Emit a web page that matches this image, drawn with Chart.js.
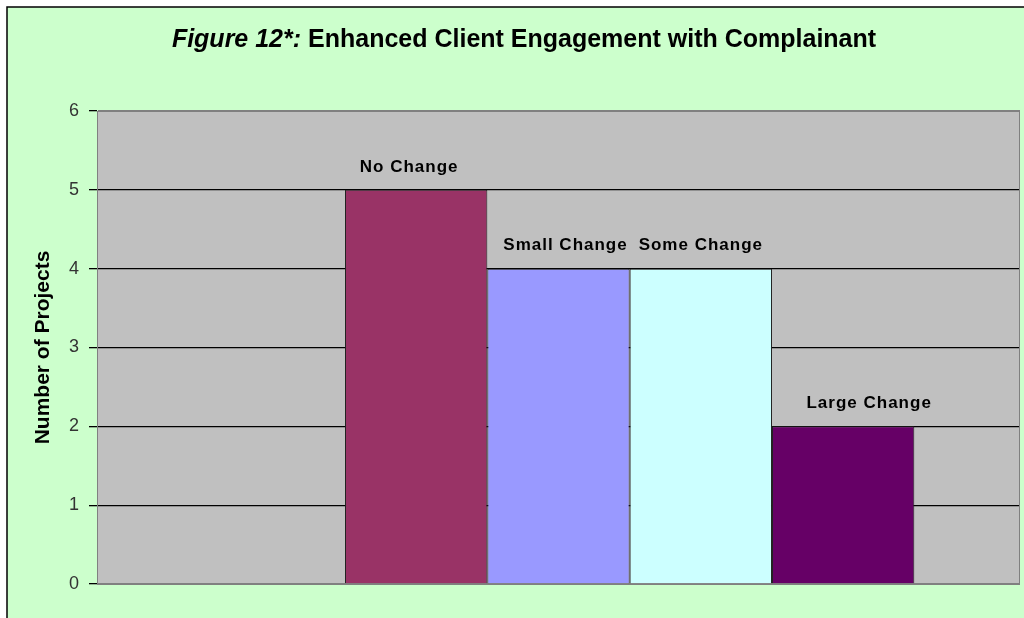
<!DOCTYPE html>
<html>
<head>
<meta charset="utf-8">
<script src="https://cdn.jsdelivr.net/npm/chart.js@4"></script>
<style>
  body { margin: 0; background: #ffffff; }
  #wrap { width: 1024px; height: 618px; }
</style>
</head>
<body>
<div id="wrap"><canvas id="fig12" width="1024" height="618"></canvas></div>
<script>
// first slot is an empty series (Excel left a blank bar there)
var seriesNames = ['', 'No Change', 'Small Change', 'Some Change', 'Large Change'];
var projectCounts = [null, 5, 4, 4, 2];
var seriesColors = ['#c0c0c0', '#993366', '#9999ff', '#ccffff', '#660066'];
var yTicks = [0, 1, 2, 3, 4, 5, 6];

// the labels in the original are hand placed text boxes, not quite centred
var labelShift = [0, -7, 7, 0, 26];

var datasets = [];
for (var i = 0; i < seriesNames.length; i++) {
    datasets.push({
        label: seriesNames[i],
        data: [projectCounts[i]],
        backgroundColor: seriesColors[i],
        borderColor: '#222222',
        borderWidth: 1,
        barPercentage: 1.0,
        categoryPercentage: 0.771
    });
}

// green panel, frame lines and the mixed-style title
var backdrop = {
    id: 'backdrop',
    beforeDraw: function(chart) {
        var ctx = chart.ctx;
        ctx.save();
        ctx.fillStyle = '#ffffff';
        ctx.fillRect(0, 0, chart.width, chart.height);
        ctx.fillStyle = '#ccffcc';
        ctx.fillRect(7, 7, chart.width - 7, chart.height - 7);
        ctx.strokeStyle = '#000000';
        ctx.lineWidth = 1.5;
        ctx.beginPath();
        ctx.moveTo(7, chart.height);
        ctx.lineTo(7, 7);
        ctx.lineTo(chart.width, 7);
        ctx.stroke();
        var a = chart.chartArea;
        ctx.fillStyle = '#c0c0c0';
        ctx.fillRect(a.left, a.top, a.right - a.left, a.bottom - a.top);

        // title
        var part1 = 'Figure 12*:';
        var part2 = ' Enhanced Client Engagement with Complainant';
        ctx.fillStyle = '#000000';
        ctx.textBaseline = 'middle';
        ctx.textAlign = 'left';
        ctx.font = 'italic bold 25px "Liberation Sans", Arial, sans-serif';
        var w1 = ctx.measureText(part1).width;
        ctx.font = 'bold 25px "Liberation Sans", Arial, sans-serif';
        var w2 = ctx.measureText(part2).width;
        var x0 = 524 - (w1 + w2) / 2;
        ctx.font = 'italic bold 25px "Liberation Sans", Arial, sans-serif';
        ctx.fillText(part1, x0, 40);
        ctx.font = 'bold 25px "Liberation Sans", Arial, sans-serif';
        ctx.fillText(part2, x0 + w1, 40);
        ctx.restore();
    },
    afterDraw: function(chart) {
        var ctx = chart.ctx;
        var a = chart.chartArea;
        ctx.save();
        ctx.strokeStyle = '#808080';
        ctx.lineWidth = 1;
        ctx.strokeRect(a.left + 0.5, a.top + 0.5, a.right - a.left - 1, a.bottom - a.top);
        ctx.restore();
    }
};

// series names written above each bar
var barNames = {
    id: 'barNames',
    afterDatasetsDraw: function(chart) {
        var ctx = chart.ctx;
        ctx.save();
        ctx.font = 'bold 17px "Liberation Sans", Arial, sans-serif';
        ctx.letterSpacing = '1px';
        ctx.fillStyle = '#000000';
        ctx.textAlign = 'center';
        ctx.textBaseline = 'middle';
        chart.data.datasets.forEach(function(ds, i) {
            if (ds.data[0] === null) return;
            var bar = chart.getDatasetMeta(i).data[0];
            ctx.fillText(ds.label, bar.x + labelShift[i], bar.y - 23);
        });
        ctx.restore();
    }
};

var chart = new Chart(document.getElementById('fig12'), {
    type: 'bar',
    data: {
        labels: [''],
        datasets: datasets
    },
    plugins: [backdrop, barNames],
    options: {
        responsive: false,
        animation: false,
        layout: { padding: { left: 30, top: 111, right: 4, bottom: 34 } },
        plugins: {
            legend: { display: false },
            tooltip: { enabled: false }
        },
        scales: {
            x: { display: false },
            y: {
                min: 0,
                max: 6,
                afterBuildTicks: function(scale) {
                    scale.ticks = yTicks.map(function(v) { return { value: v }; });
                },
                afterFit: function(scale) { scale.width = 67; },
                ticks: {
                    padding: 10,
                    color: '#333333',
                    font: { family: '"Liberation Sans", Arial, sans-serif', size: 18 }
                },
                grid: {
                    tickLength: 8,
                    color: function(c) {
                        return (c.tick && (c.tick.value === 0 || c.tick.value === 6)) ? '#808080' : '#000000';
                    },
                    tickColor: '#000000',
                    lineWidth: 1.3
                },
                border: { color: '#555555', width: 1 },
                title: {
                    display: true,
                    text: 'Number of Projects',
                    color: '#000000',
                    padding: { top: 1, bottom: 0 },
                    font: { family: '"Liberation Sans", Arial, sans-serif', size: 21, weight: 'bold' }
                }
            }
        }
    }
});
</script>
</body>
</html>
